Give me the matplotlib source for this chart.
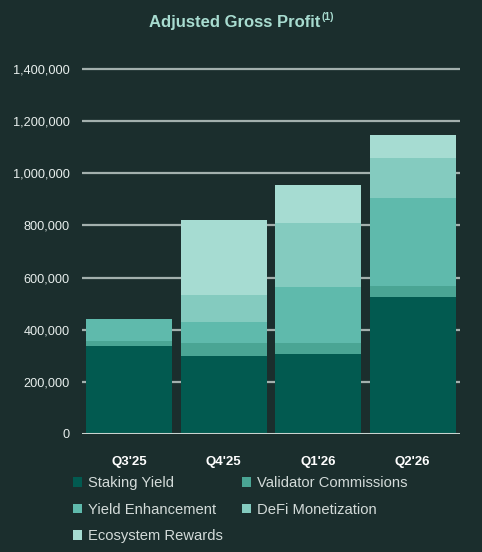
import matplotlib
matplotlib.use("Agg")
import matplotlib.pyplot as plt
from matplotlib.patches import Patch
import numpy as np

quarters = ["Q3'25", "Q4'25", "Q1'26", "Q2'26"]
staking_yield = [336000, 300000, 308000, 524000]
validator_commissions = [19000, 50000, 40000, 42000]
yield_enhancement = [85000, 78000, 215000, 339000]
defi_monetization = [0, 105000, 246000, 155000]
ecosystem_rewards = [0, 288000, 146000, 87000]

series_names = ["Staking Yield", "Validator Commissions", "Yield Enhancement",
                "DeFi Monetization", "Ecosystem Rewards"]
series_vals = [staking_yield, validator_commissions, yield_enhancement,
               defi_monetization, ecosystem_rewards]
colors = ["#025a50", "#4aa594", "#5fbaac", "#84cbbf", "#a6dcd2"]

yticks = [0, 200000, 400000, 600000, 800000, 1000000, 1200000, 1400000]

bg = "#1b2e2d"
plt.rcParams['font.family'] = ['Liberation Sans', 'DejaVu Sans']

fig = plt.figure(figsize=(4.82, 5.52), dpi=100, facecolor=bg)
ax = fig.add_axes([82/482, 1-434/552, (460-82)/482, (434-66)/552])
ax.set_facecolor(bg)

x = np.arange(len(quarters))
bottom = np.zeros(len(quarters))
for name, vals, c in zip(series_names, series_vals, colors):
    v = np.array(vals, dtype=float)
    ax.bar(x, v, bottom=bottom, width=0.91, color=c, label=name, zorder=3, linewidth=0)
    bottom += v

ax.set_xlim(-0.5, 3.5)
ax.set_ylim(0, 1400000 * (434-66) / 365)
ax.set_yticks(yticks)
ax.set_yticklabels([f"{t:,}" for t in yticks], color="#e8efed", fontsize=9.2)
for t in yticks[1:]:
    ax.axhline(t, color="#a3b0ad", lw=1.6, zorder=1)
ax.axhline(0, color="#c9d3d0", lw=2.2, zorder=4)
ax.tick_params(axis='y', length=0, pad=8.8)
ax.tick_params(axis='x', length=0, pad=16)
ax.set_xticks(x)
ax.set_xticklabels(quarters, color="#ffffff", fontsize=9.5, fontweight="bold")
for s in ax.spines.values():
    s.set_visible(False)

title = fig.text(149/482, 1-22/552, "Adjusted Gross Profit", ha="left", va="center",
                 color="#a8dcd0", fontsize=12.0, fontweight="bold")
fig.canvas.draw()
bb = title.get_window_extent(renderer=fig.canvas.get_renderer())
fig.text((bb.x1 + 1) / fig.bbox.width, 1-17/552, "(1)", ha="left", va="center",
         color="#a8dcd0", fontsize=7.5, fontweight="bold")

handles = [Patch(facecolor=c, edgecolor="none") for c in colors]
order = [0, 2, 4, 1, 3]
leg = fig.legend([handles[i] for i in order], [series_names[i] for i in order],
                 ncol=2, loc="upper left", bbox_to_anchor=(60/482, 1-463/552),
                 frameon=False, fontsize=10.6, labelcolor="#d3dbd9",
                 handlelength=0.6, handleheight=0.6, handletextpad=0.4,
                 columnspacing=1.3, labelspacing=0.85)

fig.savefig("out.png", dpi=100, facecolor=bg)
